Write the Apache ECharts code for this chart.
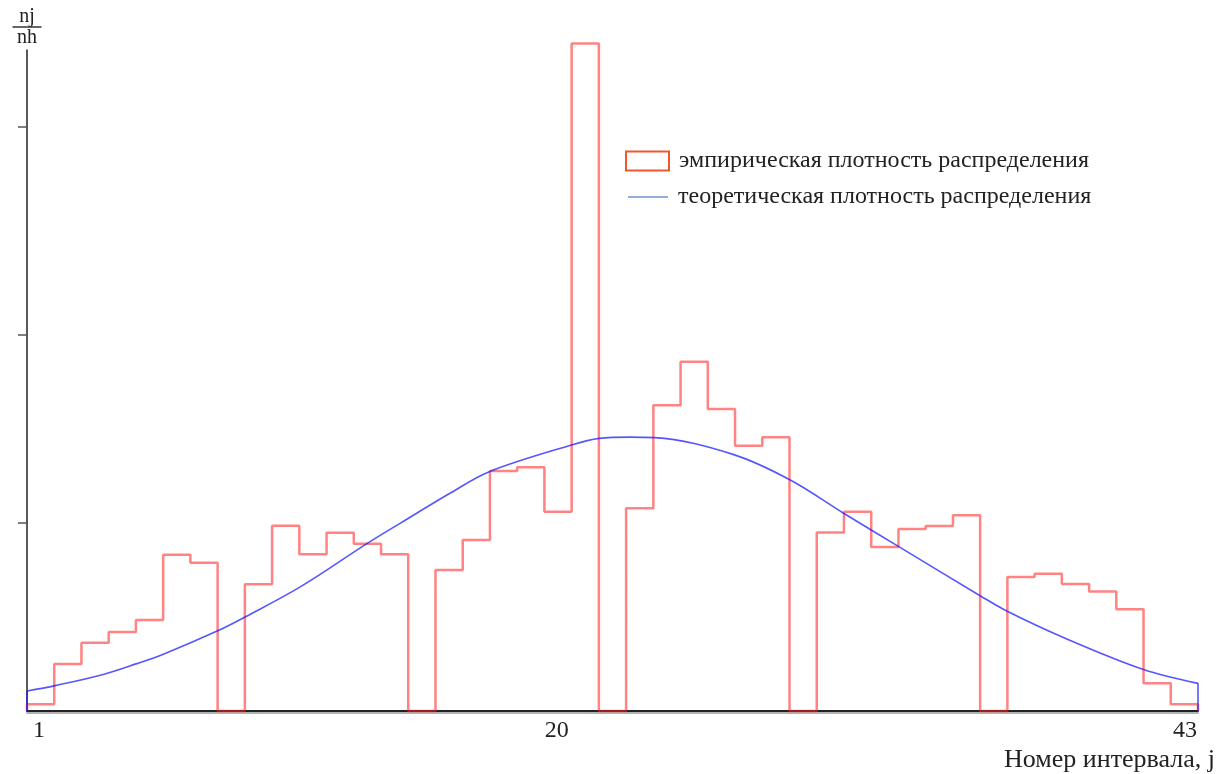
<!DOCTYPE html>
<html>
<head>
<meta charset="utf-8">
<script src="https://cdn.jsdelivr.net/npm/echarts@6/dist/echarts.min.js"></script>
<style>
html, body { margin: 0; padding: 0; background: #fff; }
#hist { width: 1221px; height: 774px; }
</style>
</head>
<body>
<div id="hist"></div>
<script>
// эмпирическая плотность: высота ступеньки на каждом из 43 интервалов
var empValues = [0.36, 2.5, 3.63, 4.2, 4.84, 8.31, 7.89, 0, 6.74, 9.86,
	8.34, 9.48, 8.9, 8.34, 0, 7.5, 9.1, 12.77, 12.96, 10.6,
	35.5, 0, 10.78, 16.26, 18.58, 16.06, 14.11, 14.56, 0, 9.5,
	10.6, 8.72, 9.68, 9.84, 10.41, 0, 7.13, 7.3, 6.76, 6.35,
	5.41, 1.47, 0.36];

var theoX = [1, 2.01, 3.63, 4.94, 5.89, 7.86, 8.82, 10.8, 13.19, 14.38, 16.17, 17.58,
	20.53, 21.52, 22.62, 23.52, 26.32, 28.36, 30.29, 32.27, 35.2, 36.14, 38.13, 41.02, 43];
var theoY = [1.06, 1.35, 1.9, 2.52, 3.02, 4.28, 5.0, 6.6, 8.9, 9.98, 11.58, 12.73,
	14.15, 14.5, 14.57, 14.54, 13.65, 12.3, 10.52, 8.74, 6.12, 5.32, 3.94, 2.22, 1.47];

var xLabels = [1, 20, 43];
var yTicks = [10, 20, 31.1];

var nameEmp = 'эмпирическая плотность распределения';
var nameTheo = 'теоретическая плотность распределения';
var serif = '"Liberation Serif", "DejaVu Serif", serif';
var blue = 'rgba(30,30,255,0.75)';

function buildSteps(values, xMin, xMax) {
	var w = (xMax - xMin) / values.length;
	var pts = [ [ xMin, 0 ] ];
	for (var i = 0; i < values.length; i++) {
		pts.push([ xMin + i * w, values[i] ]);
		pts.push([ xMin + (i + 1) * w, values[i] ]);
	}
	pts.push([ xMax, 0 ]);
	return pts;
}

function buildPairs(xs, ys) {
	var pts = [];
	for (var i = 0; i < xs.length; i++) {
		pts.push([ xs[i], ys[i] ]);
	}
	return pts;
}

function initHist(domId) {
	var myChart = echarts.init(document.getElementById(domId));
	var last = theoX.length - 1;
	var legendText = {
		fontFamily : serif,
		fontSize : 24,
		color : '#222',
		padding : [ 0, 0, 0, 5 ]
	};
	var option = {
		animation : false,
		textStyle : {
			fontFamily : serif
		},
		grid : {
			left : 27,
			right : 23,
			top : 50,
			bottom : 63
		},
		legend : [ {
			left : 625,
			top : 149,
			itemWidth : 43,
			itemHeight : 19,
			padding : 0,
			selectedMode : false,
			textStyle : legendText,
			data : [ {
				name : nameEmp,
				icon : 'rect',
				itemStyle : {
					color : '#fff',
					borderColor : '#f0582a',
					borderWidth : 2
				}
			} ]
		}, {
			left : 628,
			top : 185,
			itemWidth : 40,
			itemHeight : 1.5,
			padding : 0,
			selectedMode : false,
			textStyle : legendText,
			data : [ {
				name : nameTheo,
				icon : 'rect',
				itemStyle : {
					color : '#7090d0'
				}
			} ]
		} ],
		xAxis : {
			type : 'value',
			min : 1,
			max : 43,
			name : 'Номер интервала, j',
			nameLocation : 'end',
			nameGap : 17,
			nameTextStyle : {
				fontFamily : serif,
				fontSize : 26,
				color : '#222',
				align : 'right',
				verticalAlign : 'top',
				padding : [ 36, 0, 0, 0 ]
			},
			axisLine : {
				lineStyle : {
					color : '#222',
					width : 2,
					shadowColor : 'rgba(0,0,0,0.3)',
					shadowOffsetY : 2
				}
			},
			axisTick : {
				show : false
			},
			splitLine : {
				show : false
			},
			axisLabel : {
				customValues : xLabels,
				alignMinLabel : 'left',
				alignMaxLabel : 'right',
				margin : 8,
				fontFamily : serif,
				fontSize : 24,
				color : '#222',
				formatter : function(value) {
					if (value == xLabels[0]) {
						return '{first|' + value + '}';
					}
					if (value == xLabels[xLabels.length - 1]) {
						return '{end|' + value + '}';
					}
					return '' + value;
				},
				rich : {
					first : {
						fontFamily : serif,
						fontSize : 24,
						color : '#222',
						padding : [ 0, 0, 0, 6 ]
					},
					end : {
						fontFamily : serif,
						fontSize : 24,
						color : '#222',
						padding : [ 0, 1, 0, 0 ]
					}
				}
			}
		},
		yAxis : {
			type : 'value',
			min : 0,
			max : 35.16,
			name : '{n|nj}\n{bar| }\n{n|nh}',
			nameLocation : 'end',
			nameGap : 4,
			nameTextStyle : {
				align : 'center',
				rich : {
					n : {
						fontFamily : serif,
						fontSize : 20,
						lineHeight : 17,
						color : '#222',
						align : 'center'
					},
					bar : {
						width : 29,
						height : 1.5,
						fontSize : 1,
						lineHeight : 4,
						backgroundColor : '#333',
						align : 'center'
					}
				}
			},
			axisLine : {
				show : true,
				lineStyle : {
					color : '#222',
					width : 1.5
				}
			},
			axisTick : {
				show : true,
				customValues : yTicks,
				length : 9,
				lineStyle : {
					color : '#555',
					width : 1.5
				}
			},
			axisLabel : {
				show : false
			},
			splitLine : {
				show : false
			}
		},
		series : [ {
			name : nameEmp,
			type : 'line',
			data : buildSteps(empValues, 1, 43),
			showSymbol : false,
			symbol : 'none',
			clip : false,
			z : 2,
			lineStyle : {
				color : 'rgba(255,30,30,0.55)',
				width : 2.5
			}
		}, {
			name : nameTheo,
			type : 'line',
			data : buildPairs(theoX, theoY),
			smooth : 0.35,
			showSymbol : false,
			symbol : 'none',
			z : 3,
			lineStyle : {
				color : blue,
				width : 1.6
			},
			// вертикальные отрезки на концах кривой
			markLine : {
				silent : true,
				symbol : 'none',
				label : {
					show : false
				},
				lineStyle : {
					color : blue,
					width : 1.6,
					type : 'solid'
				},
				data : [ [ {
					coord : [ theoX[0], 0 ]
				}, {
					coord : [ theoX[0], theoY[0] ]
				} ], [ {
					coord : [ theoX[last], 0 ]
				}, {
					coord : [ theoX[last], theoY[last] ]
				} ] ]
			}
		} ]
	};
	myChart.setOption(option);
}

initHist('hist');
</script>
</body>
</html>
